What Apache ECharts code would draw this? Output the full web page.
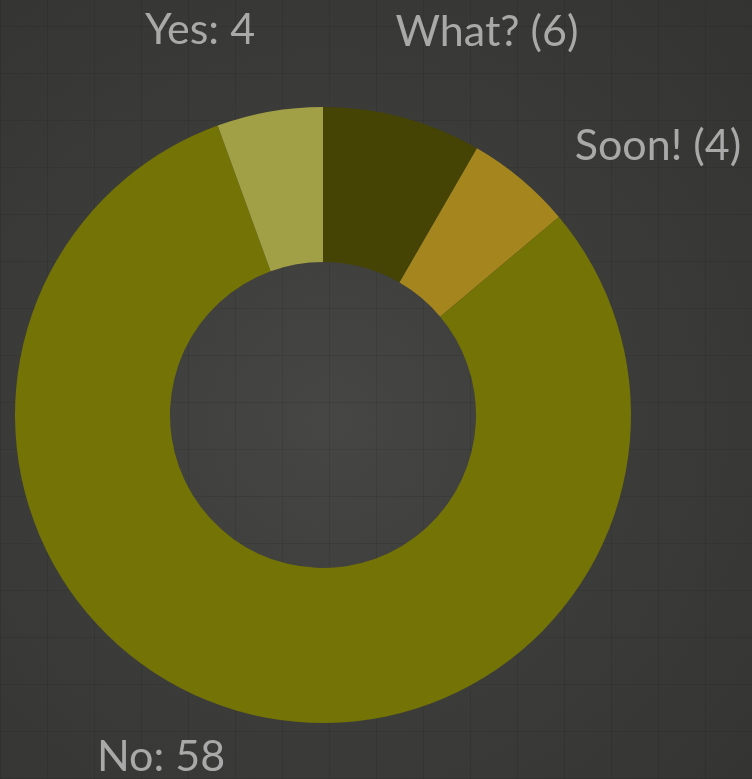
<!DOCTYPE html>
<html>
<head>
<meta charset="utf-8">
<script src="https://cdn.jsdelivr.net/npm/echarts@6/dist/echarts.min.js"></script>
<style>
  html, body { margin: 0; padding: 0; }
  body {
    width: 752px; height: 779px; overflow: hidden;
    background-color: #3a3a38;
    background-image:
      repeating-linear-gradient(0deg, rgba(0,0,0,0.09) 0px, rgba(0,0,0,0.09) 1px, transparent 1px, transparent 47px),
      repeating-linear-gradient(90deg, rgba(0,0,0,0.09) 0px, rgba(0,0,0,0.09) 1px, transparent 1px, transparent 47px),
      radial-gradient(circle at 330px 420px, #464644 0%, #3c3c3a 45%, #333331 100%);
  }
  #chart { width: 752px; height: 779px; }
</style>
</head>
<body>
<div id="chart"></div>
<script>
(function () {

  'use strict';

  // slice order clockwise from 12 o'clock
  var categories = ['What?', 'Soon!', 'No', 'Yes'];
  var values = [6, 4, 58, 4];
  var labelTexts = ['What? (6)', 'Soon! (4)', 'No: 58', 'Yes: 4'];
  var colors = ['#454405', '#a5861e', '#737306', '#a2a047'];

  // where each label sits (centre of text)
  var labelSpots = [[487, 32], [658, 146], [161, 757], [200, 30]];

  var chart = echarts.init(document.getElementById('chart'));

  var data = categories.map(function (c, i) {
    return {
      name: c,
      value: values[i],
      itemStyle: { color: colors[i] },
      label: { formatter: labelTexts[i] }
    };
  });

  var option = {
    backgroundColor: 'transparent',
    animation: false,
    series: [{
      type: 'pie',
      center: [323, 415],
      radius: [153, 308],
      startAngle: 90,
      clockwise: true,
      data: data,
      itemStyle: { borderWidth: 0 },
      label: {
        show: true,
        position: 'outside',
        color: '#a9a9a9',
        fontFamily: 'Lato, "Open Sans", sans-serif',
        fontSize: 43
      },
      labelLine: { show: false },
      labelLayout: function (params) {
        var p = labelSpots[params.dataIndex];
        return { x: p[0], y: p[1], align: 'center', verticalAlign: 'middle' };
      },
      emphasis: { disabled: true }
    }]
  };

  chart.setOption(option);

})();
</script>
</body>
</html>
